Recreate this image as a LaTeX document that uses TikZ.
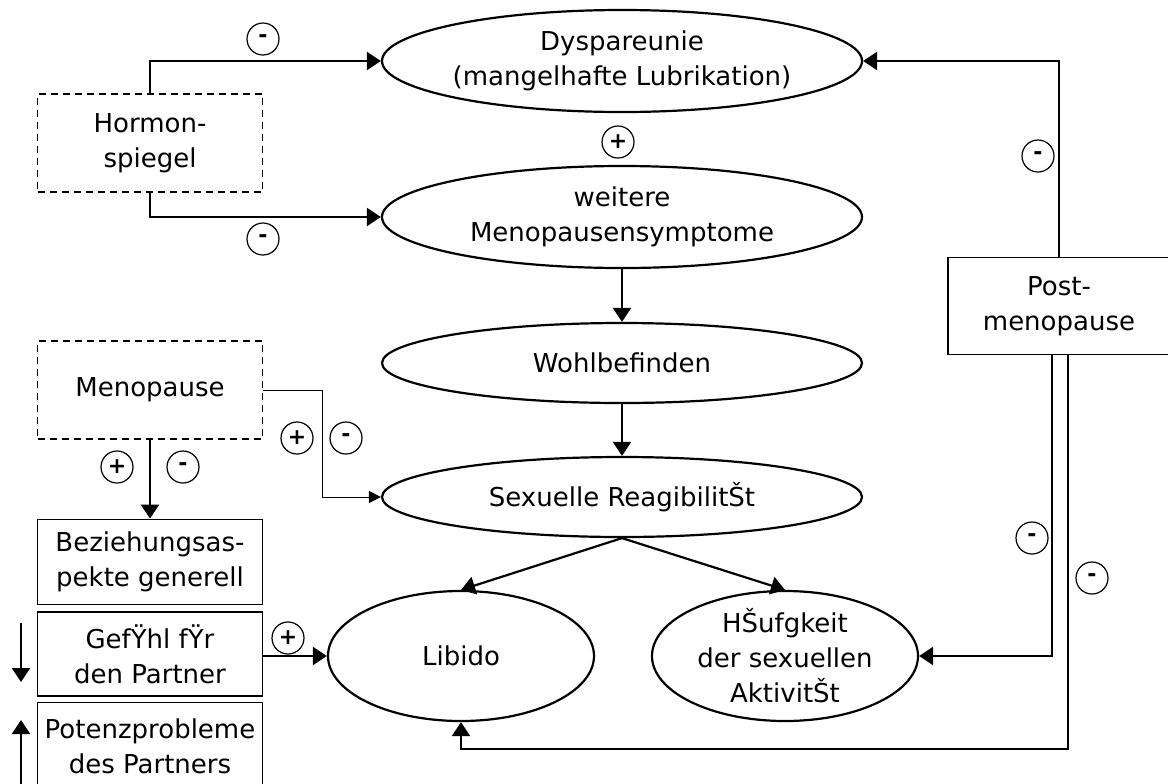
\documentclass[tikz,border=0pt]{standalone}
\usepackage{fontspec}
\setmainfont{DejaVu Sans}
\usetikzlibrary{shapes.geometric,arrows.meta}

\begin{document}
\begin{tikzpicture}[x=0.5pt,y=-0.5pt,
    font=\fontsize{13}{17.5}\selectfont,
    >={Triangle[length=7pt,width=9pt]},
    oval/.style={ellipse,draw,line width=1.1pt,inner xsep=-12pt,inner ysep=-3pt,align=center},
    box/.style={rectangle,draw,line width=0.9pt,inner sep=1.5pt,align=center,minimum width=112.5pt},
    dashbox/.style={box,dash pattern=on 3.5pt off 2.5pt},
    sign/.style={circle,draw,line width=0.6pt,minimum size=16pt,inner sep=0pt,font=\fontsize{11}{11}\selectfont\bfseries},
    link/.style={->,line width=1.1pt},
    thin link/.style={-{Triangle[length=6pt,width=6pt]},line width=0.5pt}]
   \useasboundingbox (0,0) rectangle (1168,783);
   \clip (0,0) rectangle (1168,783);
   \node[oval,minimum width=240pt,minimum height=51pt] (dysp) at (622,61) {Dyspareunie\\(mangelhafte Lubrikation)};
   \node[oval,minimum width=240pt,minimum height=51pt] (symp) at (622,217) {weitere\\Menopausensymptome};
   \node[oval,minimum width=240pt,minimum height=40pt] (wohl) at (622,363) {Wohlbefinden};
   \node[oval,minimum width=240pt,minimum height=40pt] (reag) at (622,497) {Sexuelle ReagibilitŠt};
   \node[oval,minimum width=133pt,minimum height=65pt] (libido) at (461,656) {Libido};
   \node[oval,minimum width=133pt,minimum height=65pt] (haeuf) at (785,656) {HŠufgkeit\\der sexuellen\\AktivitŠt};
   \node[dashbox,minimum height=49pt] (hormon) at (150,143) {Hormon-\\spiegel};
   \node[dashbox,minimum height=49pt] (meno) at (150,390) {Menopause};
   \node[box,minimum height=42.5pt] (bez) at (150,562) {Beziehungsas-\\pekte generell};
   \node[box,minimum height=42pt] (gef) at (150,654) {GefŸhl fŸr\\den Partner};
   \node[box,minimum height=43.5pt] (potenz) at (150,746) {Potenzprobleme\\des Partners};
   \node[box,minimum width=111pt,minimum height=48.5pt] (post) at (1059,306) {Post-\\menopause};
   % signs
   \node[sign] (hs1) at (263,39) {-};
   \node[sign] (hs2) at (263,239) {-};
   \node[sign] (ds) at (618,142) {+};
   \node[sign] (mp1) at (297,438) {+};
   \node[sign] (mm1) at (346,438) {-};
   \node[sign] (mp2) at (117,467) {+};
   \node[sign] (mm2) at (183,467) {-};
   \node[sign] (gp) at (288,638) {+};
   \node[sign] (pm1) at (1038,156) {-};
   \node[sign] (pm2) at (1032,538) {-};
   \node[sign] (pm3) at (1092,578) {-};
   % connectors
   \draw[link] (hormon.north) |- (dysp.west);
   \draw[link] (hormon.south) |- (symp.west);
   \draw[link] (symp) -- (wohl);
   \draw[link] (wohl) -- (reag);
   \draw[link] (reag.south) -- (libido.north);
   \draw[link] (reag.south) -- (haeuf.north);
   \draw[thin link] (meno.east) -- ++(59,0) |- (reag.west);
   \draw[link] (meno) -- (bez);
   \draw[link] (gef.east |- libido.west) -- (libido.west);
   \draw[link] (post.north) |- (dysp.east);
   \draw[link] ([xshift=-3.5pt]post.south) |- (haeuf.east);
   \coordinate (bottomrun) at (0,749);
   \draw[link] ([xshift=4.5pt]post.south) |- (bottomrun -| libido.south) -- (libido.south);
   \coordinate (downtop) at (21,623);
   \coordinate (downtip) at (21,682);
   \draw[link] (downtop) -- (downtip);
   \coordinate (upfoot) at (21,790);
   \coordinate (uptip) at (21,720);
   \draw[link] (upfoot) -- (uptip);
\end{tikzpicture}
\end{document}
